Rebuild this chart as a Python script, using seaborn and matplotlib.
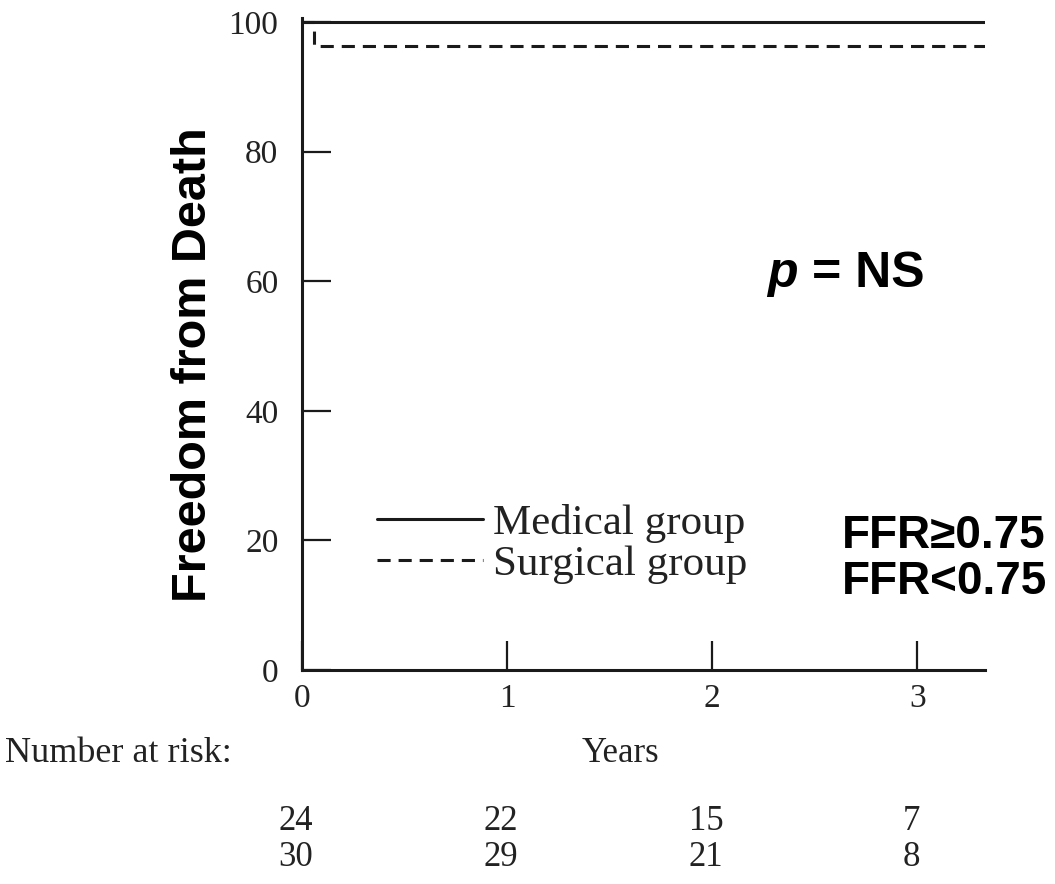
import matplotlib
matplotlib.use("Agg")
import matplotlib.pyplot as plt
import matplotlib.transforms as mtransforms
import seaborn as sns
import pandas as pd

# ---- data ----
groups = ["Medical group", "Surgical group"]
medical_years = [0.0, 3.33]
medical_surv = [100.0, 100.0]
surgical_years = [0.0, 0.06, 3.33]
surgical_surv = [100.0, 96.3, 96.3]
x_ticks = [0, 1, 2, 3]
y_ticks = [0, 20, 40, 60, 80, 100]
risk_medical = [24, 22, 15, 7]
risk_surgical = [30, 29, 21, 8]
ffr_labels = ["FFR\u22650.75", "FFR<0.75"]

df = pd.DataFrame({
    "Years": medical_years + surgical_years,
    "Survival": medical_surv + surgical_surv,
    "group": [groups[0]] * len(medical_years) + [groups[1]] * len(surgical_years),
})

sns.set_theme(style="ticks")
plt.rcParams["font.family"] = ["Liberation Serif", "DejaVu Serif"]
SANS = ["Liberation Sans", "DejaVu Sans"]

fig = plt.figure(figsize=(10.55, 8.84), dpi=100)
ax = fig.add_axes([302 / 1055, 1 - 670 / 884, 683 / 1055, 652 / 884])

sns.lineplot(data=df, x="Years", y="Survival", style="group",
             dashes={groups[0]: "", groups[1]: (4.3, 2.6)},
             color="#1a1a1a", linewidth=2.2, drawstyle="steps-post",
             estimator=None, sort=False, legend=False, ax=ax)

ax.set_xlim(0, 3.33)
ax.set_ylim(0, 100.6)
ax.set_xticks(x_ticks)
ax.set_yticks(y_ticks)
ax.set_xticklabels([str(t) for t in x_ticks])
ax.set_yticklabels([str(t) for t in y_ticks])
for s in ["top", "right"]:
    ax.spines[s].set_visible(False)
for s in ["left", "bottom"]:
    ax.spines[s].set_linewidth(2.2)
    ax.spines[s].set_color("#1a1a1a")
ax.tick_params(axis="both", direction="in", length=21, width=1.6,
               colors="#1a1a1a", labelsize=24, labelcolor="#222222")
ax.tick_params(axis="y", pad=17)
ax.tick_params(axis="x", pad=10)
ax.set_xlabel("")
ax.set_ylabel("")

# y-axis title
fig.text(193 / 1055, 1 - 365 / 884, "Freedom from Death", rotation=90,
         family=SANS, fontweight="bold", fontsize=35, color="black",
         ha="center", va="center")

# legend
lines = ax.get_lines()
leg = ax.legend(lines[:2], groups, loc="upper left",
                bbox_to_anchor=(0.11, 0.255), frameon=False,
                fontsize=31, handlelength=2.46, handletextpad=0.23,
                labelspacing=0.04, borderpad=0, borderaxespad=0)
for t in leg.get_texts():
    t.set_color("#222222")

# p = NS
fig.text(767 / 1055, 1 - 287 / 884, "p", fontsize=36, family=SANS,
         fontweight="bold", fontstyle="italic", ha="left", va="baseline",
         color="black")
fig.text(812 / 1055, 1 - 287 / 884, "= NS", fontsize=36, family=SANS,
         fontweight="bold", ha="left", va="baseline", color="black")

# FFR labels
fig.text(842 / 1055, 1 - 548 / 884, ffr_labels[0], fontsize=33, family=SANS,
         fontweight="bold", ha="left", va="baseline", color="black")
fig.text(842 / 1055, 1 - 594 / 884, ffr_labels[1], fontsize=33, family=SANS,
         fontweight="bold", ha="left", va="baseline", color="black")

# Years and Number at risk
fig.text(620 / 1055, 1 - 753 / 884, "Years", fontsize=25, ha="center",
         va="center", color="#222222")
fig.text(5 / 1055, 1 - 753 / 884, "Number at risk:", fontsize=26, ha="left",
         va="center", color="#222222")

blend = mtransforms.blended_transform_factory(ax.transData, fig.transFigure)
for xv, a, b in zip(x_ticks, risk_medical, risk_surgical):
    ax.text(xv - 0.03, 1 - 822 / 884, str(a), transform=blend, fontsize=25,
            ha="center", va="center", color="#222222", clip_on=False)
    ax.text(xv - 0.03, 1 - 857 / 884, str(b), transform=blend, fontsize=25,
            ha="center", va="center", color="#222222", clip_on=False)

fig.savefig("out.png", dpi=100, facecolor="white")
